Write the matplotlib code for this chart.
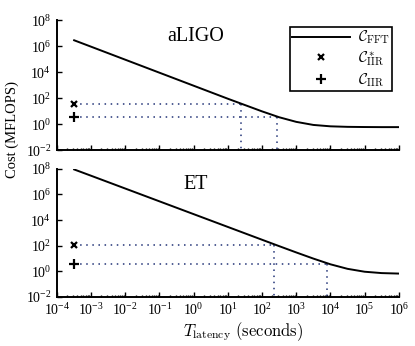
import matplotlib
matplotlib.use('Agg')
import matplotlib.pyplot as plt
from matplotlib.ticker import LogLocator, NullLocator, NullFormatter

plt.rcParams['font.family'] = 'serif'
plt.rcParams['font.serif'] = ['Liberation Serif', 'DejaVu Serif']
plt.rcParams['mathtext.fontset'] = 'stix'

# latency grid (seconds) and FFT cost (MFLOPS)
latency = [3.2e-4, 1e-3, 1e-2, 1e-1, 1e0, 1e1, 1e2, 316, 1e3, 3160, 1e4, 3.16e4, 1e5, 3.16e5, 1e6]
aligo_fft = [2.8e6, 9.0e5, 9.0e4, 9.0e3, 900, 90, 9.6, 3.4, 1.5, 0.87, 0.68, 0.62, 0.60, 0.59, 0.59]
et_fft = [9.0e7, 2.9e7, 2.9e6, 2.9e5, 2.9e4, 2.9e3, 290, 92, 29.6, 9.8, 3.5, 1.55, 0.92, 0.72, 0.66]

# IIR costs, plotted at the smallest latency
iir_latency = 3.2e-4
aligo_iir_star, aligo_iir = 35, 3.5
et_iir_star, et_iir = 115, 3.8
# latency at which the FFT cost drops to the IIR cost
aligo_cross_star, aligo_cross = 24, 270
et_cross_star, et_cross = 220, 8000

panels = [
    ('aLIGO', aligo_fft, aligo_iir_star, aligo_iir, aligo_cross_star, aligo_cross),
    ('ET', et_fft, et_iir_star, et_iir, et_cross_star, et_cross),
]

dot_col = '#223377'
ymin, ymax = 1e-2, 1e8

fig = plt.figure(figsize=(4.15, 3.46), dpi=100)
ax_top = fig.add_axes([0.137, 0.566, 0.824, 0.376])
ax_bot = fig.add_axes([0.137, 0.142, 0.824, 0.370])

for ax, (name, fft, c_star, c_iir, t_star, t_iir) in zip([ax_top, ax_bot], panels):
    # dotted guides: across from the marker, then down to the axis
    for c, t in [(c_star, t_star), (c_iir, t_iir)]:
        ax.plot([iir_latency, t], [c, c], ls=(0, (1, 3)), lw=1.1, color=dot_col, zorder=1)
        ax.plot([t, t], [c, ymin], ls=(0, (1, 3)), lw=1.1, color=dot_col, zorder=1)
    ax.plot(latency, fft, color='black', lw=1.4, label=r'$\mathcal{C}_{\rm FFT}$', zorder=3)
    ax.plot([iir_latency], [c_star], ls='none', marker='x', ms=5, mew=1.6, color='black',
            label=r'$\mathcal{C}^*_{\rm IIR}$', zorder=4)
    ax.plot([iir_latency], [c_iir], ls='none', marker='+', ms=7, mew=1.6, color='black',
            label=r'$\mathcal{C}_{\rm IIR}$', zorder=4)

    ax.set_xscale('log')
    ax.set_yscale('log')
    ax.set_xlim(1e-4, 1e6)
    ax.set_ylim(ymin, ymax)
    ax.xaxis.set_major_locator(LogLocator(base=10, numticks=20))
    ax.xaxis.set_minor_locator(LogLocator(base=10, subs=range(2, 10), numticks=100))
    ax.xaxis.set_minor_formatter(NullFormatter())
    ax.set_yticks([1e-2, 1e0, 1e2, 1e4, 1e6, 1e8])
    ax.yaxis.set_minor_locator(NullLocator())
    ax.tick_params(which='both', direction='in', labelsize=10, width=1)
    ax.tick_params(which='major', length=3.5)
    ax.tick_params(which='minor', length=1.8)
    ax.tick_params(axis='x', pad=4)
    ax.tick_params(axis='y', pad=4)
    for s in ['top', 'right']:
        ax.spines[s].set_visible(False)
    for s in ['left', 'bottom']:
        ax.spines[s].set_linewidth(1.4)
    ax.text(0.405, 0.875, name, transform=ax.transAxes, ha='center', va='center', fontsize=14.5)

ax_top.tick_params(axis='x', labelbottom=False)

leg = ax_top.legend(loc='upper right', bbox_to_anchor=(0.98, 0.95), fancybox=False,
                    edgecolor='black', framealpha=1, handlelength=3.8, fontsize=11,
                    borderpad=0.15, labelspacing=0.2, handletextpad=0.5, borderaxespad=0)
leg.get_frame().set_linewidth(1.2)
for t in leg.get_texts():
    t.set_math_fontfamily('cm')

fig.text(0.03, 0.625, 'Cost (MFLOPS)', rotation=90, ha='center', va='center', fontsize=10.5)
xl = fig.text(0.585, 0.042, r'$T_{\mathrm{latency}}\ \mathrm{(seconds)}$',
              ha='center', va='center', fontsize=12)
xl.set_math_fontfamily('cm')

fig.savefig('out.png', dpi=100)
